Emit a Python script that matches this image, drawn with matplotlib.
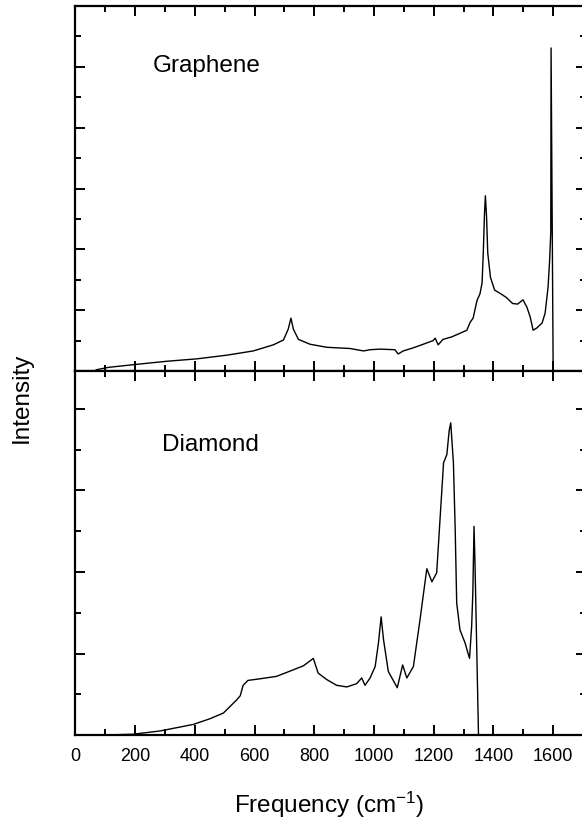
import matplotlib
matplotlib.use("Agg")
import matplotlib.pyplot as plt
from matplotlib.ticker import MultipleLocator

plt.rcParams['font.family'] = ['Liberation Sans', 'DejaVu Sans']
plt.rcParams['mathtext.fontset'] = 'custom'
plt.rcParams['mathtext.rm'] = 'Liberation Sans'
plt.rcParams['mathtext.it'] = 'Liberation Sans'

# graphene spectrum (frequency in cm^-1, intensity in arb. units)
gr_freq = [70, 111, 206, 306, 407, 507, 596, 663, 697, 713, 722, 730, 747, 786,
           842, 920, 965, 987, 1020, 1070, 1081, 1098, 1131, 1165, 1198, 1205,
           1215, 1231, 1260, 1288, 1311, 1322, 1332, 1345, 1355, 1362, 1366,
           1370, 1373, 1377, 1381, 1390, 1404, 1421, 1443, 1464, 1481, 1499,
           1512, 1523, 1533, 1546, 1563, 1573, 1583, 1588, 1592, 1593, 1600]
gr_int = [0.02, 0.06, 0.11, 0.16, 0.20, 0.26, 0.33, 0.43, 0.51, 0.69, 0.87, 0.69,
          0.52, 0.44, 0.39, 0.37, 0.33, 0.35, 0.36, 0.35, 0.28, 0.33, 0.38, 0.44,
          0.50, 0.54, 0.43, 0.52, 0.56, 0.62, 0.67, 0.80, 0.87, 1.16, 1.27, 1.45,
          1.94, 2.58, 2.88, 2.53, 1.94, 1.54, 1.33, 1.28, 1.21, 1.11, 1.10, 1.17,
          1.05, 0.89, 0.67, 0.71, 0.79, 0.95, 1.38, 1.81, 2.28, 5.31, 0.0]

# diamond spectrum
di_freq = [100, 194, 284, 395, 451, 496, 540, 552, 562, 578, 619, 674, 730, 764,
           797, 813, 842, 875, 909, 942, 959, 970, 987, 1004, 1015, 1024, 1032,
           1048, 1078, 1096, 1110, 1132, 1154, 1166, 1177, 1194, 1210, 1233, 1244,
           1252, 1257, 1266, 1272, 1277, 1288, 1305, 1320, 1327, 1331, 1335, 1338,
           1350]
di_int = [0.0, 0.01, 0.05, 0.13, 0.20, 0.27, 0.43, 0.48, 0.61, 0.67, 0.69, 0.72,
          0.80, 0.85, 0.94, 0.76, 0.68, 0.61, 0.59, 0.63, 0.70, 0.61, 0.70, 0.84,
          1.13, 1.45, 1.17, 0.78, 0.58, 0.86, 0.70, 0.84, 1.41, 1.74, 2.04, 1.88,
          1.99, 3.34, 3.44, 3.74, 3.83, 3.34, 2.52, 1.62, 1.29, 1.13, 0.94, 1.33,
          1.74, 2.56, 2.15, 0.0]

fig = plt.figure(figsize=(5.82, 8.23), dpi=100)
# the right edge of the frame sits just past the figure border
ax_top = fig.add_axes([0.1294, 0.5492, 0.8775, 0.4435])
ax_bot = fig.add_axes([0.1294, 0.1069, 0.8775, 0.4423])

ax_top.plot(gr_freq, gr_int, color='black', lw=1.0)
ax_bot.plot(di_freq, di_int, color='black', lw=1.0)

ax_top.set_ylim(0, 6)
ax_bot.set_ylim(0, 4.466)

for ax in (ax_top, ax_bot):
    ax.set_xlim(0, 1710)
    ax.xaxis.set_major_locator(MultipleLocator(200))
    ax.xaxis.set_minor_locator(MultipleLocator(100))
    ax.yaxis.set_major_locator(MultipleLocator(1))
    ax.yaxis.set_minor_locator(MultipleLocator(0.5))
    ax.tick_params(which='both', direction='in', top=True, right=True,
                   labelleft=False, width=1.4)
    ax.tick_params(which='major', length=7.5)
    ax.tick_params(which='minor', length=4)
    for sp in ax.spines.values():
        sp.set_linewidth(1.6)

ax_top.tick_params(labelbottom=False)
ax_bot.tick_params(axis='x', labelsize=13, pad=9)

ax_top.text(260, 4.92, 'Graphene', fontsize=17.5, va='baseline')
ax_bot.text(289, 3.49, 'Diamond', fontsize=17.5, va='baseline')

fig.text(329 / 582, 1 - 813 / 823, 'Frequency (cm$^{-1}$)', fontsize=17.5,
         ha='center', va='baseline')
fig.text(22 / 582, 1 - 398 / 823, 'Intensity', fontsize=17.5, rotation=90,
         ha='center', va='center')

fig.savefig('out.png', dpi=100)
